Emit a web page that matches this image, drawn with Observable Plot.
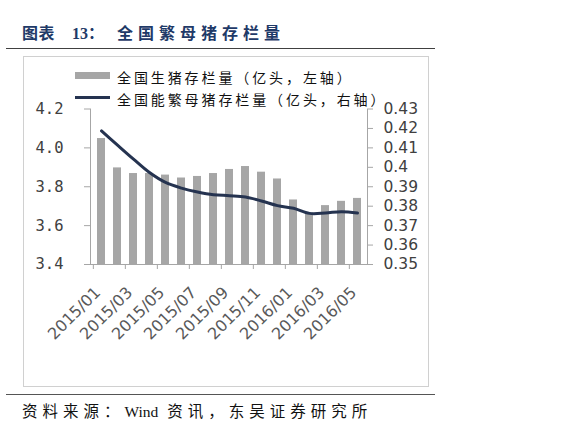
<!DOCTYPE html>
<html>
<head>
<meta charset="utf-8">
<script src="https://cdn.jsdelivr.net/npm/d3@7"></script>
<script src="https://cdn.jsdelivr.net/npm/@observablehq/plot@0.6"></script>
<style>
  body { margin: 0; background: #fff; width: 575px; height: 446px; position: relative; overflow: hidden; font-family: "Noto Sans CJK SC", sans-serif; }
  #title { position: absolute; left: 22px; top: 26px; font-size: 16px; line-height: 16px; font-weight: bold; color: #1f3a68; font-family: "Liberation Serif", "Noto Sans CJK SC", serif; white-space: nowrap; }
  .rule { position: absolute; left: 6px; width: 429px; height: 0; border-top: 1.5px solid #404040; }
  #box { position: absolute; left: 23px; top: 56px; width: 404px; height: 329px; border: 1px solid #d0d0d0; }
  .leg { position: absolute; left: 117px; font-size: 14px; line-height: 16px; letter-spacing: 2.9px; color: #111; white-space: nowrap; }
  .swatch { position: absolute; left: 75px; width: 35px; }
  #caption { position: absolute; left: 22px; top: 404px; font-size: 15.5px; line-height: 16px; letter-spacing: 5px; color: #111; font-family: "Liberation Serif", "Noto Sans CJK SC", serif; white-space: nowrap; }
  #chart { position: absolute; left: 0; top: 0; }
</style>
</head>
<body>
<div id="title"><span style="letter-spacing:0.5px">图表</span><span style="margin-left:17px">13</span><span>：</span><span style="margin-left:13px;letter-spacing:5px">全国繁母猪存栏量</span></div>
<div class="rule" style="top:48px"></div>
<div id="box"></div>
<div class="swatch" style="top:72px;height:7px;background:#a6a6a6"></div>
<div class="leg" style="top:69px">全国生猪存栏量（亿头，左轴）</div>
<div class="swatch" style="top:96px;height:3px;background:#253350"></div>
<div class="leg" style="top:91px">全国能繁母猪存栏量（亿头，右轴）</div>
<div class="rule" style="top:393.5px;border-top-color:#555"></div>
<div id="caption">资料来源：<span style="letter-spacing:0">Wind</span> 资讯，东吴证券研究所</div>
<div id="chart"></div>
<script>
const months = ["2015/01","2015/02","2015/03","2015/04","2015/05","2015/06","2015/07","2015/08","2015/09","2015/10","2015/11","2015/12","2016/01","2016/02","2016/03","2016/04","2016/05"]
// 全国生猪存栏量, 亿头 (left axis)
const hogStock = [4.048,3.897,3.868,3.868,3.86,3.845,3.853,3.868,3.889,3.904,3.875,3.84,3.732,3.665,3.703,3.725,3.74]
// 全国能繁母猪存栏量, 亿头 (right axis)
const sowStock = [0.4187,0.4114,0.4042,0.3973,0.3922,0.3893,0.3873,0.3859,0.3854,0.3847,0.3827,0.3803,0.3789,0.3763,0.3765,0.3772,0.3765]
const labelMonths = ["2015/01","2015/03","2015/05","2015/07","2015/09","2015/11","2016/01","2016/03","2016/05"]
const leftTicks = [3.4,3.6,3.8,4.0,4.2]
const leftTickLabels = ["3.4","3.6","3.8","4.0","4.2"]
const rightTicks = [0.35,0.36,0.37,0.38,0.39,0.40,0.41,0.42,0.43]
const rightTickLabels = ["0.35","0.36","0.37","0.38","0.39","0.4","0.41","0.42","0.43"]

// right axis is drawn on the left scale
const toLeft = d3.scaleLinear([0.35, 0.43], [3.4, 4.2])
const data = months.map((m, i) => ({month: m, hog: hogStock[i], sow: toLeft(sowStock[i])}))
const rightPos = rightTicks.map(v => toLeft(v))
const leftLabel = new Map(leftTicks.map((v, i) => [v, leftTickLabels[i]]))
const rightLabel = new Map(rightPos.map((v, i) => [v, rightTickLabels[i]]))

const W = 575, H = 446, mL = 90, mR = 208, mT = 108.5, mB = 182
const step = (W - mL - mR) / months.length
const axisColor = "#a6a6a6"

const chart = Plot.plot({
  width: W,
  height: H,
  marginLeft: mL,
  marginRight: mR,
  marginTop: mT,
  marginBottom: mB,
  style: {background: "transparent", overflow: "visible"},
  x: {type: "band", domain: months, paddingInner: 0.5, paddingOuter: 0.25, axis: null},
  y: {domain: [3.4, 4.2], axis: null},
  marks: [
    Plot.barY(data, {x: "month", y1: 3.4, y2: "hog", fill: "#a6a6a6"}),
    Plot.line(data, {x: "month", y: "sow", stroke: "#253350", strokeWidth: 3, curve: "catmull-rom"}),
    Plot.ruleY([3.4], {stroke: axisColor}),
    Plot.frame({anchor: "left", stroke: axisColor}),
    Plot.frame({anchor: "right", stroke: axisColor}),
    Plot.axisY(leftTicks, {
      anchor: "left", tickSize: 6, tickPadding: 21, label: null,
      tickFormat: d => leftLabel.get(d),
      stroke: axisColor, fill: "#404040",
      fontSize: 15.5, fontFamily: "DejaVu Sans Mono"
    }),
    Plot.axisY(rightPos, {
      anchor: "right", tickSize: 5, tickPadding: 11, label: null,
      tickFormat: d => rightLabel.get(d),
      stroke: axisColor, fill: "#404040",
      fontSize: 15.5, fontFamily: "DejaVu Sans"
    }),
    Plot.axisX(labelMonths, {tickSize: 5, text: null, label: null, dx: -step / 2, stroke: axisColor}),
    Plot.text(labelMonths, {
      x: d => d, frameAnchor: "bottom", rotate: -45,
      textAnchor: "end", lineAnchor: "bottom", dx: 0, dy: 29,
      fontSize: 16, fontFamily: "DejaVu Sans", fill: "#595959"
    })
  ]
})

d3.select('#chart').append(() => chart)
</script>
</body>
</html>
